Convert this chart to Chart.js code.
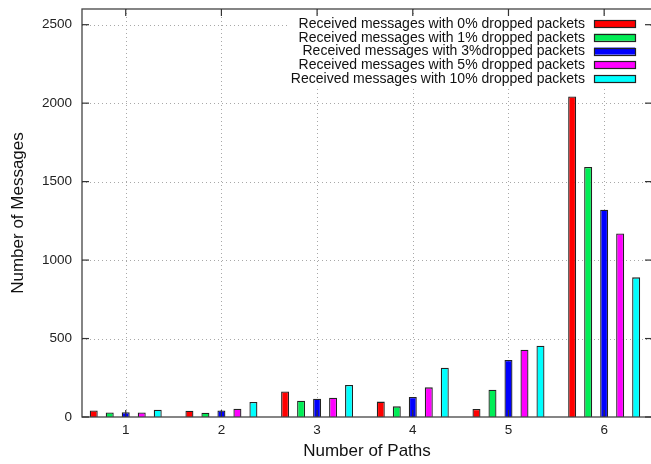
<!DOCTYPE html>
<html><head><meta charset="utf-8">
<script src="https://cdn.jsdelivr.net/npm/chart.js@4/dist/chart.umd.min.js"></script>
<style>html,body{margin:0;padding:0;background:#fff;overflow:hidden;}#wrap{width:656px;height:464px;overflow:hidden;}</style>
</head><body><div id="wrap"><canvas id="c" width="656" height="464"></canvas></div>
<script>
const paths = [1, 2, 3, 4, 5, 6];
const seriesNames = [
  'Received messages with 0% dropped packets',
  'Received messages with 1% dropped packets',
  'Received messages with 3%dropped packets',
  'Received messages with 5% dropped packets',
  'Received messages with 10% dropped packets'
];
const drop0  = [42, 40, 163, 98, 51, 2043];
const drop1  = [29, 27, 104, 68, 174, 1593];
const drop3  = [30, 42, 117, 127, 363, 1321];
const drop5  = [29, 53, 123, 189, 429, 1170];
const drop10 = [46, 96, 204, 314, 454, 890];
const yTicks = [0, 500, 1000, 1500, 2000, 2500];
const xTicks = paths;

const series = [drop0, drop1, drop3, drop5, drop10];
const colors = ['#ff0000', '#00ee55', '#0000ff', '#ff00ff', '#00ffff'];
const FONT = '"Liberation Sans", Arial, Helvetica, sans-serif';

const framePlugin = {
  id: 'framePlugin',
  beforeDatasetsDraw(chart) {
    const {ctx, chartArea: a, scales: {x, y}} = chart;
    ctx.save();
    ctx.strokeStyle = '#a8a8a8';
    ctx.lineWidth = 1;
    ctx.setLineDash([1, 3]);
    yTicks.forEach(v => {
      if (v === 0) return;
      const py = Math.round(y.getPixelForValue(v)) + 0.5;
      ctx.beginPath(); ctx.moveTo(a.left, py); ctx.lineTo(a.right, py); ctx.stroke();
    });
    xTicks.forEach(v => {
      const px = Math.round(x.getPixelForValue(v)) + 0.5;
      ctx.beginPath(); ctx.moveTo(px, a.top); ctx.lineTo(px, a.bottom); ctx.stroke();
    });
    ctx.restore();
  },
  afterDatasetsDraw(chart) {
    const {ctx, chartArea: a, scales: {x, y}} = chart;
    ctx.save();
    ctx.fillStyle = '#fff';
    ctx.fillRect(288, 16, 360, 71);
    ctx.strokeStyle = '#444';
    ctx.lineWidth = 1.3;
    ctx.strokeRect(a.left, a.top, a.right - a.left, a.bottom - a.top);
    ctx.lineWidth = 1.2;
    ctx.strokeStyle = '#333';
    const L = 7;
    yTicks.forEach(v => {
      const py = y.getPixelForValue(v);
      ctx.beginPath(); ctx.moveTo(a.left, py); ctx.lineTo(a.left + L, py); ctx.stroke();
      ctx.beginPath(); ctx.moveTo(a.right, py); ctx.lineTo(a.right - L, py); ctx.stroke();
    });
    xTicks.forEach(v => {
      const px = x.getPixelForValue(v);
      ctx.beginPath(); ctx.moveTo(px, a.bottom); ctx.lineTo(px, a.bottom - L); ctx.stroke();
      ctx.beginPath(); ctx.moveTo(px, a.top); ctx.lineTo(px, a.top + L); ctx.stroke();
    });
    ctx.font = '14px ' + FONT;
    ctx.textAlign = 'right';
    ctx.textBaseline = 'middle';
    seriesNames.forEach((name, i) => {
      const cy = 23.5 + i * 13.8;
      ctx.fillStyle = '#111';
      ctx.fillText(name, 585, cy + 0.5);
      ctx.fillStyle = colors[i];
      ctx.fillRect(594, cy - 3.5, 41, 7);
      ctx.strokeStyle = '#222';
      ctx.lineWidth = 1.2;
      ctx.strokeRect(594.5, Math.round(cy - 3.5) + 0.5, 41, 7);
    });
    ctx.restore();
  }
};

new Chart(document.getElementById('c'), {
  type: 'bar',
  data: {
    datasets: series.map((s, i) => ({
      label: seriesNames[i],
      data: paths.map((p, j) => ({x: p, y: s[j]})),
      backgroundColor: colors[i],
      borderColor: '#222',
      borderWidth: 1.3,
      categoryPercentage: 0.836,
      barPercentage: 0.5
    }))
  },
  options: {
    responsive: false,
    animation: false,
    devicePixelRatio: 1,
    layout: {padding: {top: 9, right: 4, left: 0, bottom: 0}},
    plugins: {legend: {display: false}, tooltip: {enabled: false}},
    scales: {
      x: {
        type: 'linear',
        offset: false,
        min: 0.543,
        max: 6.5,
        afterBuildTicks: s => { s.ticks = xTicks.map(v => ({value: v})); },
        grid: {display: false, drawTicks: false, offset: false},
        border: {display: false},
        ticks: {padding: 5, color: '#222', font: {family: FONT, size: 13.5}, callback: v => String(v)},
        title: {display: true, text: 'Number of Paths', color: '#111', font: {family: FONT, size: 17}, padding: {top: 0, bottom: 2}},
        afterFit: s => { s.height = 47; s.paddingLeft = 0; s.paddingRight = 0; }
      },
      y: {
        min: 0,
        max: 2600,
        afterBuildTicks: s => { s.ticks = yTicks.map(v => ({value: v})); },
        grid: {display: false, drawTicks: false},
        border: {display: false},
        ticks: {padding: 10, color: '#222', font: {family: FONT, size: 13.5}, callback: v => String(v)},
        title: {display: true, text: 'Number of Messages', color: '#111', font: {family: FONT, size: 17}, padding: {top: 8, bottom: 0}},
        afterFit: s => { s.width = 82; s.paddingTop = 0; s.paddingBottom = 0; }
      }
    }
  },
  plugins: [framePlugin]
});
</script>
</body></html>
